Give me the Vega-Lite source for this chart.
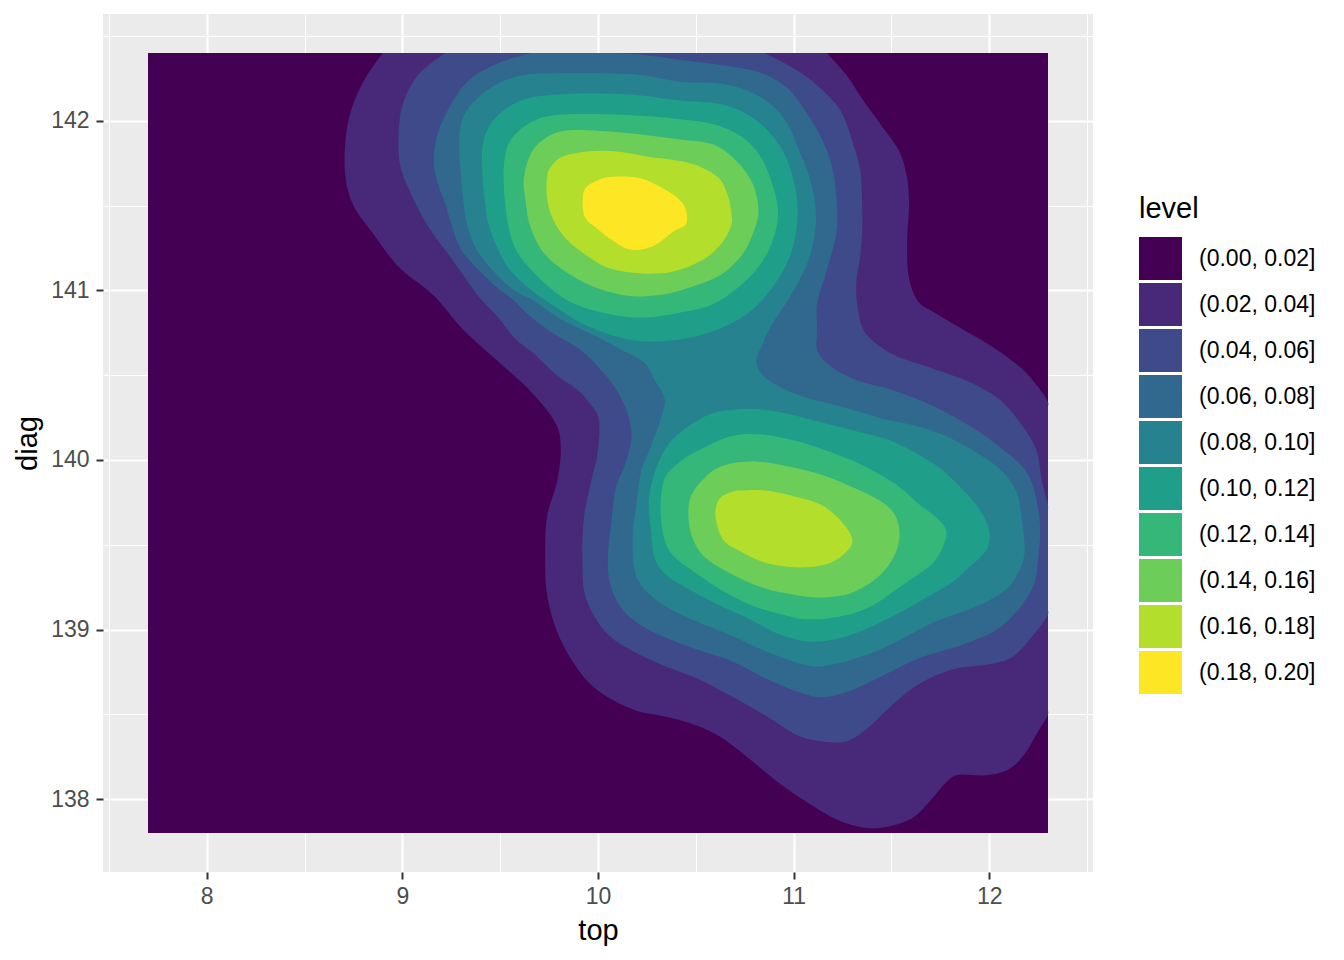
{
"$schema":"https://vega.github.io/schema/vega-lite/v6.json",
"width":990,"height":858,
"autosize":{"type":"none"},
"padding":{"left":103,"top":14,"right":251,"bottom":88},
"background":"white",
"config":{"font":"Liberation Sans","view":{"fill":"#EBEBEB","stroke":null}},
"data":{"values":[
{"id":"bg","level":"(0.00, 0.02]","o":1,"x":7.7,"y":137.8},
{"id":"bg","level":"(0.00, 0.02]","o":2,"x":12.3,"y":137.8},
{"id":"bg","level":"(0.00, 0.02]","o":3,"x":12.3,"y":142.4},
{"id":"bg","level":"(0.00, 0.02]","o":4,"x":7.7,"y":142.4},
{"id":"p2","level":"(0.02, 0.04]","o":2,"x":11.17,"y":142.4},
{"id":"p2","level":"(0.02, 0.04]","o":3,"x":11.27,"y":142.27},
{"id":"p2","level":"(0.02, 0.04]","o":4,"x":11.35,"y":142.13},
{"id":"p2","level":"(0.02, 0.04]","o":5,"x":11.45,"y":141.97},
{"id":"p2","level":"(0.02, 0.04]","o":6,"x":11.54,"y":141.82},
{"id":"p2","level":"(0.02, 0.04]","o":7,"x":11.58,"y":141.66},
{"id":"p2","level":"(0.02, 0.04]","o":8,"x":11.59,"y":141.50},
{"id":"p2","level":"(0.02, 0.04]","o":9,"x":11.58,"y":141.30},
{"id":"p2","level":"(0.02, 0.04]","o":10,"x":11.59,"y":141.07},
{"id":"p2","level":"(0.02, 0.04]","o":11,"x":11.64,"y":140.93},
{"id":"p2","level":"(0.02, 0.04]","o":12,"x":11.72,"y":140.87},
{"id":"p2","level":"(0.02, 0.04]","o":13,"x":11.85,"y":140.78},
{"id":"p2","level":"(0.02, 0.04]","o":14,"x":11.97,"y":140.70},
{"id":"p2","level":"(0.02, 0.04]","o":15,"x":12.10,"y":140.60},
{"id":"p2","level":"(0.02, 0.04]","o":16,"x":12.20,"y":140.50},
{"id":"p2","level":"(0.02, 0.04]","o":17,"x":12.30,"y":140.34},
{"id":"p2","level":"(0.02, 0.04]","o":17.3,"x":12.30,"y":140.31},
{"id":"p2","level":"(0.02, 0.04]","o":17.7,"x":12.30,"y":138.53},
{"id":"p2","level":"(0.02, 0.04]","o":18,"x":12.30,"y":138.50},
{"id":"p2","level":"(0.02, 0.04]","o":19,"x":12.25,"y":138.40},
{"id":"p2","level":"(0.02, 0.04]","o":20,"x":12.17,"y":138.25},
{"id":"p2","level":"(0.02, 0.04]","o":21,"x":12.09,"y":138.17},
{"id":"p2","level":"(0.02, 0.04]","o":22,"x":11.98,"y":138.14},
{"id":"p2","level":"(0.02, 0.04]","o":23,"x":11.83,"y":138.14},
{"id":"p2","level":"(0.02, 0.04]","o":24,"x":11.78,"y":138.10},
{"id":"p2","level":"(0.02, 0.04]","o":25,"x":11.69,"y":137.98},
{"id":"p2","level":"(0.02, 0.04]","o":26,"x":11.61,"y":137.89},
{"id":"p2","level":"(0.02, 0.04]","o":27,"x":11.49,"y":137.84},
{"id":"p2","level":"(0.02, 0.04]","o":28,"x":11.37,"y":137.83},
{"id":"p2","level":"(0.02, 0.04]","o":29,"x":11.22,"y":137.88},
{"id":"p2","level":"(0.02, 0.04]","o":30,"x":11.07,"y":137.98},
{"id":"p2","level":"(0.02, 0.04]","o":31,"x":10.93,"y":138.09},
{"id":"p2","level":"(0.02, 0.04]","o":32,"x":10.76,"y":138.25},
{"id":"p2","level":"(0.02, 0.04]","o":33,"x":10.62,"y":138.37},
{"id":"p2","level":"(0.02, 0.04]","o":34,"x":10.49,"y":138.44},
{"id":"p2","level":"(0.02, 0.04]","o":35,"x":10.33,"y":138.49},
{"id":"p2","level":"(0.02, 0.04]","o":36,"x":10.20,"y":138.52},
{"id":"p2","level":"(0.02, 0.04]","o":37,"x":10.05,"y":138.60},
{"id":"p2","level":"(0.02, 0.04]","o":38,"x":9.95,"y":138.69},
{"id":"p2","level":"(0.02, 0.04]","o":39,"x":9.86,"y":138.83},
{"id":"p2","level":"(0.02, 0.04]","o":40,"x":9.79,"y":138.99},
{"id":"p2","level":"(0.02, 0.04]","o":41,"x":9.74,"y":139.20},
{"id":"p2","level":"(0.02, 0.04]","o":42,"x":9.73,"y":139.42},
{"id":"p2","level":"(0.02, 0.04]","o":43,"x":9.74,"y":139.67},
{"id":"p2","level":"(0.02, 0.04]","o":44,"x":9.79,"y":139.87},
{"id":"p2","level":"(0.02, 0.04]","o":45,"x":9.81,"y":140.06},
{"id":"p2","level":"(0.02, 0.04]","o":46,"x":9.79,"y":140.20},
{"id":"p2","level":"(0.02, 0.04]","o":47,"x":9.66,"y":140.40},
{"id":"p2","level":"(0.02, 0.04]","o":48,"x":9.49,"y":140.58},
{"id":"p2","level":"(0.02, 0.04]","o":49,"x":9.31,"y":140.77},
{"id":"p2","level":"(0.02, 0.04]","o":50,"x":9.16,"y":140.97},
{"id":"p2","level":"(0.02, 0.04]","o":51,"x":8.98,"y":141.14},
{"id":"p2","level":"(0.02, 0.04]","o":52,"x":8.86,"y":141.32},
{"id":"p2","level":"(0.02, 0.04]","o":53,"x":8.75,"y":141.50},
{"id":"p2","level":"(0.02, 0.04]","o":54,"x":8.71,"y":141.66},
{"id":"p2","level":"(0.02, 0.04]","o":55,"x":8.71,"y":141.89},
{"id":"p2","level":"(0.02, 0.04]","o":56,"x":8.74,"y":142.07},
{"id":"p2","level":"(0.02, 0.04]","o":57,"x":8.81,"y":142.25},
{"id":"p2","level":"(0.02, 0.04]","o":58,"x":8.90,"y":142.4},
{"id":"p4","level":"(0.04, 0.06]","o":2,"x":10.85,"y":142.4},
{"id":"p4","level":"(0.04, 0.06]","o":3,"x":11.00,"y":142.31},
{"id":"p4","level":"(0.04, 0.06]","o":4,"x":11.13,"y":142.20},
{"id":"p4","level":"(0.04, 0.06]","o":5,"x":11.24,"y":142.06},
{"id":"p4","level":"(0.04, 0.06]","o":6,"x":11.30,"y":141.88},
{"id":"p4","level":"(0.04, 0.06]","o":7,"x":11.34,"y":141.71},
{"id":"p4","level":"(0.04, 0.06]","o":8,"x":11.35,"y":141.51},
{"id":"p4","level":"(0.04, 0.06]","o":9,"x":11.35,"y":141.35},
{"id":"p4","level":"(0.04, 0.06]","o":10,"x":11.34,"y":141.20},
{"id":"p4","level":"(0.04, 0.06]","o":11,"x":11.32,"y":141.04},
{"id":"p4","level":"(0.04, 0.06]","o":12,"x":11.33,"y":140.88},
{"id":"p4","level":"(0.04, 0.06]","o":13,"x":11.36,"y":140.76},
{"id":"p4","level":"(0.04, 0.06]","o":14,"x":11.44,"y":140.67},
{"id":"p4","level":"(0.04, 0.06]","o":15,"x":11.53,"y":140.61},
{"id":"p4","level":"(0.04, 0.06]","o":16,"x":11.71,"y":140.54},
{"id":"p4","level":"(0.04, 0.06]","o":17,"x":11.90,"y":140.46},
{"id":"p4","level":"(0.04, 0.06]","o":18,"x":12.05,"y":140.36},
{"id":"p4","level":"(0.04, 0.06]","o":19,"x":12.17,"y":140.20},
{"id":"p4","level":"(0.04, 0.06]","o":20,"x":12.24,"y":140.06},
{"id":"p4","level":"(0.04, 0.06]","o":21,"x":12.27,"y":139.87},
{"id":"p4","level":"(0.04, 0.06]","o":22,"x":12.30,"y":139.73},
{"id":"p4","level":"(0.04, 0.06]","o":22.3,"x":12.30,"y":139.70},
{"id":"p4","level":"(0.04, 0.06]","o":22.7,"x":12.30,"y":139.12},
{"id":"p4","level":"(0.04, 0.06]","o":23,"x":12.30,"y":139.09},
{"id":"p4","level":"(0.04, 0.06]","o":24,"x":12.22,"y":138.96},
{"id":"p4","level":"(0.04, 0.06]","o":25,"x":12.12,"y":138.84},
{"id":"p4","level":"(0.04, 0.06]","o":26,"x":12.02,"y":138.80},
{"id":"p4","level":"(0.04, 0.06]","o":27,"x":11.83,"y":138.77},
{"id":"p4","level":"(0.04, 0.06]","o":28,"x":11.69,"y":138.71},
{"id":"p4","level":"(0.04, 0.06]","o":29,"x":11.58,"y":138.63},
{"id":"p4","level":"(0.04, 0.06]","o":30,"x":11.48,"y":138.53},
{"id":"p4","level":"(0.04, 0.06]","o":31,"x":11.37,"y":138.41},
{"id":"p4","level":"(0.04, 0.06]","o":32,"x":11.27,"y":138.34},
{"id":"p4","level":"(0.04, 0.06]","o":33,"x":11.15,"y":138.34},
{"id":"p4","level":"(0.04, 0.06]","o":34,"x":11.03,"y":138.37},
{"id":"p4","level":"(0.04, 0.06]","o":35,"x":10.86,"y":138.49},
{"id":"p4","level":"(0.04, 0.06]","o":36,"x":10.69,"y":138.60},
{"id":"p4","level":"(0.04, 0.06]","o":37,"x":10.51,"y":138.71},
{"id":"p4","level":"(0.04, 0.06]","o":38,"x":10.33,"y":138.79},
{"id":"p4","level":"(0.04, 0.06]","o":39,"x":10.18,"y":138.87},
{"id":"p4","level":"(0.04, 0.06]","o":40,"x":10.06,"y":138.96},
{"id":"p4","level":"(0.04, 0.06]","o":41,"x":9.98,"y":139.08},
{"id":"p4","level":"(0.04, 0.06]","o":42,"x":9.93,"y":139.22},
{"id":"p4","level":"(0.04, 0.06]","o":43,"x":9.92,"y":139.42},
{"id":"p4","level":"(0.04, 0.06]","o":44,"x":9.92,"y":139.53},
{"id":"p4","level":"(0.04, 0.06]","o":45,"x":9.93,"y":139.68},
{"id":"p4","level":"(0.04, 0.06]","o":46,"x":9.96,"y":139.85},
{"id":"p4","level":"(0.04, 0.06]","o":47,"x":10.00,"y":140.06},
{"id":"p4","level":"(0.04, 0.06]","o":48,"x":10.00,"y":140.26},
{"id":"p4","level":"(0.04, 0.06]","o":49,"x":9.96,"y":140.33},
{"id":"p4","level":"(0.04, 0.06]","o":50,"x":9.91,"y":140.40},
{"id":"p4","level":"(0.04, 0.06]","o":51,"x":9.79,"y":140.50},
{"id":"p4","level":"(0.04, 0.06]","o":52,"x":9.66,"y":140.64},
{"id":"p4","level":"(0.04, 0.06]","o":53,"x":9.58,"y":140.71},
{"id":"p4","level":"(0.04, 0.06]","o":54,"x":9.49,"y":140.84},
{"id":"p4","level":"(0.04, 0.06]","o":55,"x":9.40,"y":140.95},
{"id":"p4","level":"(0.04, 0.06]","o":56,"x":9.25,"y":141.19},
{"id":"p4","level":"(0.04, 0.06]","o":57,"x":9.13,"y":141.38},
{"id":"p4","level":"(0.04, 0.06]","o":58,"x":9.04,"y":141.58},
{"id":"p4","level":"(0.04, 0.06]","o":59,"x":8.99,"y":141.73},
{"id":"p4","level":"(0.04, 0.06]","o":60,"x":8.98,"y":141.89},
{"id":"p4","level":"(0.04, 0.06]","o":61,"x":9.00,"y":142.09},
{"id":"p4","level":"(0.04, 0.06]","o":62,"x":9.08,"y":142.27},
{"id":"p4","level":"(0.04, 0.06]","o":63,"x":9.22,"y":142.4},
{"id":"p6","level":"(0.06, 0.08]","o":2,"x":10.06,"y":142.4},
{"id":"p6","level":"(0.06, 0.08]","o":3,"x":10.22,"y":142.39},
{"id":"p6","level":"(0.06, 0.08]","o":4,"x":10.42,"y":142.36},
{"id":"p6","level":"(0.06, 0.08]","o":5,"x":10.68,"y":142.32},
{"id":"p6","level":"(0.06, 0.08]","o":6,"x":10.84,"y":142.28},
{"id":"p6","level":"(0.06, 0.08]","o":7,"x":10.97,"y":142.19},
{"id":"p6","level":"(0.06, 0.08]","o":8,"x":11.07,"y":142.04},
{"id":"p6","level":"(0.06, 0.08]","o":9,"x":11.15,"y":141.88},
{"id":"p6","level":"(0.06, 0.08]","o":10,"x":11.20,"y":141.71},
{"id":"p6","level":"(0.06, 0.08]","o":11,"x":11.22,"y":141.53},
{"id":"p6","level":"(0.06, 0.08]","o":12,"x":11.22,"y":141.35},
{"id":"p6","level":"(0.06, 0.08]","o":13,"x":11.17,"y":141.12},
{"id":"p6","level":"(0.06, 0.08]","o":14,"x":11.12,"y":140.92},
{"id":"p6","level":"(0.06, 0.08]","o":15,"x":11.12,"y":140.76},
{"id":"p6","level":"(0.06, 0.08]","o":16,"x":11.12,"y":140.65},
{"id":"p6","level":"(0.06, 0.08]","o":17,"x":11.17,"y":140.57},
{"id":"p6","level":"(0.06, 0.08]","o":18,"x":11.30,"y":140.48},
{"id":"p6","level":"(0.06, 0.08]","o":19,"x":11.51,"y":140.41},
{"id":"p6","level":"(0.06, 0.08]","o":20,"x":11.71,"y":140.32},
{"id":"p6","level":"(0.06, 0.08]","o":21,"x":11.90,"y":140.20},
{"id":"p6","level":"(0.06, 0.08]","o":22,"x":12.05,"y":140.08},
{"id":"p6","level":"(0.06, 0.08]","o":23,"x":12.19,"y":139.93},
{"id":"p6","level":"(0.06, 0.08]","o":24,"x":12.24,"y":139.77},
{"id":"p6","level":"(0.06, 0.08]","o":25,"x":12.26,"y":139.59},
{"id":"p6","level":"(0.06, 0.08]","o":26,"x":12.25,"y":139.42},
{"id":"p6","level":"(0.06, 0.08]","o":27,"x":12.23,"y":139.27},
{"id":"p6","level":"(0.06, 0.08]","o":28,"x":12.15,"y":139.12},
{"id":"p6","level":"(0.06, 0.08]","o":29,"x":12.04,"y":139.00},
{"id":"p6","level":"(0.06, 0.08]","o":30,"x":11.91,"y":138.93},
{"id":"p6","level":"(0.06, 0.08]","o":31,"x":11.78,"y":138.88},
{"id":"p6","level":"(0.06, 0.08]","o":32,"x":11.64,"y":138.83},
{"id":"p6","level":"(0.06, 0.08]","o":33,"x":11.53,"y":138.77},
{"id":"p6","level":"(0.06, 0.08]","o":34,"x":11.39,"y":138.69},
{"id":"p6","level":"(0.06, 0.08]","o":35,"x":11.27,"y":138.63},
{"id":"p6","level":"(0.06, 0.08]","o":36,"x":11.13,"y":138.60},
{"id":"p6","level":"(0.06, 0.08]","o":37,"x":11.03,"y":138.63},
{"id":"p6","level":"(0.06, 0.08]","o":38,"x":10.86,"y":138.71},
{"id":"p6","level":"(0.06, 0.08]","o":39,"x":10.69,"y":138.81},
{"id":"p6","level":"(0.06, 0.08]","o":40,"x":10.51,"y":138.88},
{"id":"p6","level":"(0.06, 0.08]","o":41,"x":10.33,"y":138.96},
{"id":"p6","level":"(0.06, 0.08]","o":42,"x":10.20,"y":139.04},
{"id":"p6","level":"(0.06, 0.08]","o":43,"x":10.11,"y":139.14},
{"id":"p6","level":"(0.06, 0.08]","o":44,"x":10.06,"y":139.28},
{"id":"p6","level":"(0.06, 0.08]","o":45,"x":10.05,"y":139.42},
{"id":"p6","level":"(0.06, 0.08]","o":46,"x":10.07,"y":139.65},
{"id":"p6","level":"(0.06, 0.08]","o":47,"x":10.09,"y":139.83},
{"id":"p6","level":"(0.06, 0.08]","o":48,"x":10.14,"y":139.98},
{"id":"p6","level":"(0.06, 0.08]","o":49,"x":10.17,"y":140.12},
{"id":"p6","level":"(0.06, 0.08]","o":50,"x":10.16,"y":140.24},
{"id":"p6","level":"(0.06, 0.08]","o":51,"x":10.12,"y":140.36},
{"id":"p6","level":"(0.06, 0.08]","o":52,"x":10.06,"y":140.47},
{"id":"p6","level":"(0.06, 0.08]","o":53,"x":10.00,"y":140.55},
{"id":"p6","level":"(0.06, 0.08]","o":54,"x":9.91,"y":140.65},
{"id":"p6","level":"(0.06, 0.08]","o":55,"x":9.78,"y":140.74},
{"id":"p6","level":"(0.06, 0.08]","o":56,"x":9.66,"y":140.84},
{"id":"p6","level":"(0.06, 0.08]","o":57,"x":9.56,"y":140.95},
{"id":"p6","level":"(0.06, 0.08]","o":58,"x":9.48,"y":141.02},
{"id":"p6","level":"(0.06, 0.08]","o":59,"x":9.39,"y":141.12},
{"id":"p6","level":"(0.06, 0.08]","o":60,"x":9.30,"y":141.24},
{"id":"p6","level":"(0.06, 0.08]","o":61,"x":9.25,"y":141.39},
{"id":"p6","level":"(0.06, 0.08]","o":62,"x":9.22,"y":141.51},
{"id":"p6","level":"(0.06, 0.08]","o":63,"x":9.19,"y":141.60},
{"id":"p6","level":"(0.06, 0.08]","o":64,"x":9.16,"y":141.75},
{"id":"p6","level":"(0.06, 0.08]","o":65,"x":9.18,"y":141.92},
{"id":"p6","level":"(0.06, 0.08]","o":66,"x":9.25,"y":142.10},
{"id":"p6","level":"(0.06, 0.08]","o":67,"x":9.35,"y":142.25},
{"id":"p6","level":"(0.06, 0.08]","o":68,"x":9.49,"y":142.34},
{"id":"p6","level":"(0.06, 0.08]","o":69,"x":9.66,"y":142.4},
{"id":"p8","level":"(0.08, 0.10]","o":1,"x":9.29,"y":141.86},
{"id":"p8","level":"(0.08, 0.10]","o":2,"x":9.31,"y":142.02},
{"id":"p8","level":"(0.08, 0.10]","o":3,"x":9.39,"y":142.14},
{"id":"p8","level":"(0.08, 0.10]","o":4,"x":9.49,"y":142.22},
{"id":"p8","level":"(0.08, 0.10]","o":5,"x":9.62,"y":142.27},
{"id":"p8","level":"(0.08, 0.10]","o":6,"x":9.79,"y":142.28},
{"id":"p8","level":"(0.08, 0.10]","o":7,"x":10.01,"y":142.28},
{"id":"p8","level":"(0.08, 0.10]","o":8,"x":10.22,"y":142.27},
{"id":"p8","level":"(0.08, 0.10]","o":9,"x":10.42,"y":142.23},
{"id":"p8","level":"(0.08, 0.10]","o":10,"x":10.62,"y":142.22},
{"id":"p8","level":"(0.08, 0.10]","o":11,"x":10.76,"y":142.18},
{"id":"p8","level":"(0.08, 0.10]","o":12,"x":10.88,"y":142.10},
{"id":"p8","level":"(0.08, 0.10]","o":13,"x":10.97,"y":141.98},
{"id":"p8","level":"(0.08, 0.10]","o":14,"x":11.03,"y":141.82},
{"id":"p8","level":"(0.08, 0.10]","o":15,"x":11.08,"y":141.67},
{"id":"p8","level":"(0.08, 0.10]","o":16,"x":11.11,"y":141.51},
{"id":"p8","level":"(0.08, 0.10]","o":17,"x":11.11,"y":141.35},
{"id":"p8","level":"(0.08, 0.10]","o":18,"x":11.07,"y":141.16},
{"id":"p8","level":"(0.08, 0.10]","o":19,"x":10.98,"y":140.96},
{"id":"p8","level":"(0.08, 0.10]","o":20,"x":10.89,"y":140.80},
{"id":"p8","level":"(0.08, 0.10]","o":21,"x":10.84,"y":140.68},
{"id":"p8","level":"(0.08, 0.10]","o":22,"x":10.81,"y":140.58},
{"id":"p8","level":"(0.08, 0.10]","o":23,"x":10.86,"y":140.48},
{"id":"p8","level":"(0.08, 0.10]","o":24,"x":11.03,"y":140.38},
{"id":"p8","level":"(0.08, 0.10]","o":25,"x":11.26,"y":140.31},
{"id":"p8","level":"(0.08, 0.10]","o":26,"x":11.47,"y":140.24},
{"id":"p8","level":"(0.08, 0.10]","o":27,"x":11.63,"y":140.20},
{"id":"p8","level":"(0.08, 0.10]","o":28,"x":11.78,"y":140.14},
{"id":"p8","level":"(0.08, 0.10]","o":29,"x":11.91,"y":140.06},
{"id":"p8","level":"(0.08, 0.10]","o":30,"x":12.05,"y":139.95},
{"id":"p8","level":"(0.08, 0.10]","o":31,"x":12.14,"y":139.81},
{"id":"p8","level":"(0.08, 0.10]","o":32,"x":12.17,"y":139.61},
{"id":"p8","level":"(0.08, 0.10]","o":33,"x":12.18,"y":139.45},
{"id":"p8","level":"(0.08, 0.10]","o":34,"x":12.15,"y":139.34},
{"id":"p8","level":"(0.08, 0.10]","o":35,"x":12.09,"y":139.24},
{"id":"p8","level":"(0.08, 0.10]","o":36,"x":11.98,"y":139.16},
{"id":"p8","level":"(0.08, 0.10]","o":37,"x":11.85,"y":139.10},
{"id":"p8","level":"(0.08, 0.10]","o":38,"x":11.71,"y":139.04},
{"id":"p8","level":"(0.08, 0.10]","o":39,"x":11.58,"y":138.96},
{"id":"p8","level":"(0.08, 0.10]","o":40,"x":11.44,"y":138.88},
{"id":"p8","level":"(0.08, 0.10]","o":41,"x":11.32,"y":138.83},
{"id":"p8","level":"(0.08, 0.10]","o":42,"x":11.18,"y":138.79},
{"id":"p8","level":"(0.08, 0.10]","o":43,"x":11.06,"y":138.79},
{"id":"p8","level":"(0.08, 0.10]","o":44,"x":10.86,"y":138.87},
{"id":"p8","level":"(0.08, 0.10]","o":45,"x":10.69,"y":138.96},
{"id":"p8","level":"(0.08, 0.10]","o":46,"x":10.52,"y":139.04},
{"id":"p8","level":"(0.08, 0.10]","o":47,"x":10.37,"y":139.12},
{"id":"p8","level":"(0.08, 0.10]","o":48,"x":10.27,"y":139.20},
{"id":"p8","level":"(0.08, 0.10]","o":49,"x":10.20,"y":139.30},
{"id":"p8","level":"(0.08, 0.10]","o":50,"x":10.18,"y":139.42},
{"id":"p8","level":"(0.08, 0.10]","o":51,"x":10.18,"y":139.59},
{"id":"p8","level":"(0.08, 0.10]","o":52,"x":10.20,"y":139.77},
{"id":"p8","level":"(0.08, 0.10]","o":53,"x":10.22,"y":139.93},
{"id":"p8","level":"(0.08, 0.10]","o":54,"x":10.27,"y":140.08},
{"id":"p8","level":"(0.08, 0.10]","o":55,"x":10.32,"y":140.24},
{"id":"p8","level":"(0.08, 0.10]","o":56,"x":10.34,"y":140.36},
{"id":"p8","level":"(0.08, 0.10]","o":57,"x":10.29,"y":140.47},
{"id":"p8","level":"(0.08, 0.10]","o":58,"x":10.24,"y":140.57},
{"id":"p8","level":"(0.08, 0.10]","o":59,"x":10.12,"y":140.65},
{"id":"p8","level":"(0.08, 0.10]","o":60,"x":9.97,"y":140.74},
{"id":"p8","level":"(0.08, 0.10]","o":61,"x":9.81,"y":140.83},
{"id":"p8","level":"(0.08, 0.10]","o":62,"x":9.67,"y":140.94},
{"id":"p8","level":"(0.08, 0.10]","o":63,"x":9.56,"y":141.01},
{"id":"p8","level":"(0.08, 0.10]","o":64,"x":9.46,"y":141.12},
{"id":"p8","level":"(0.08, 0.10]","o":65,"x":9.38,"y":141.24},
{"id":"p8","level":"(0.08, 0.10]","o":66,"x":9.33,"y":141.39},
{"id":"p8","level":"(0.08, 0.10]","o":67,"x":9.31,"y":141.54},
{"id":"p8","level":"(0.08, 0.10]","o":68,"x":9.30,"y":141.67},
{"id":"u10","level":"(0.10, 0.12]","o":1,"x":9.41,"y":141.85},
{"id":"u10","level":"(0.10, 0.12]","o":2,"x":9.45,"y":141.98},
{"id":"u10","level":"(0.10, 0.12]","o":3,"x":9.54,"y":142.08},
{"id":"u10","level":"(0.10, 0.12]","o":4,"x":9.67,"y":142.14},
{"id":"u10","level":"(0.10, 0.12]","o":5,"x":9.87,"y":142.16},
{"id":"u10","level":"(0.10, 0.12]","o":6,"x":10.05,"y":142.16},
{"id":"u10","level":"(0.10, 0.12]","o":7,"x":10.22,"y":142.15},
{"id":"u10","level":"(0.10, 0.12]","o":8,"x":10.42,"y":142.12},
{"id":"u10","level":"(0.10, 0.12]","o":9,"x":10.62,"y":142.10},
{"id":"u10","level":"(0.10, 0.12]","o":10,"x":10.76,"y":142.04},
{"id":"u10","level":"(0.10, 0.12]","o":11,"x":10.87,"y":141.94},
{"id":"u10","level":"(0.10, 0.12]","o":12,"x":10.95,"y":141.81},
{"id":"u10","level":"(0.10, 0.12]","o":13,"x":11.00,"y":141.65},
{"id":"u10","level":"(0.10, 0.12]","o":14,"x":11.02,"y":141.49},
{"id":"u10","level":"(0.10, 0.12]","o":15,"x":11.01,"y":141.33},
{"id":"u10","level":"(0.10, 0.12]","o":16,"x":10.97,"y":141.17},
{"id":"u10","level":"(0.10, 0.12]","o":17,"x":10.88,"y":141.00},
{"id":"u10","level":"(0.10, 0.12]","o":18,"x":10.76,"y":140.86},
{"id":"u10","level":"(0.10, 0.12]","o":19,"x":10.59,"y":140.76},
{"id":"u10","level":"(0.10, 0.12]","o":20,"x":10.42,"y":140.71},
{"id":"u10","level":"(0.10, 0.12]","o":21,"x":10.22,"y":140.70},
{"id":"u10","level":"(0.10, 0.12]","o":22,"x":10.06,"y":140.74},
{"id":"u10","level":"(0.10, 0.12]","o":23,"x":9.91,"y":140.81},
{"id":"u10","level":"(0.10, 0.12]","o":24,"x":9.76,"y":140.92},
{"id":"u10","level":"(0.10, 0.12]","o":25,"x":9.65,"y":141.01},
{"id":"u10","level":"(0.10, 0.12]","o":26,"x":9.55,"y":141.12},
{"id":"u10","level":"(0.10, 0.12]","o":27,"x":9.49,"y":141.24},
{"id":"u10","level":"(0.10, 0.12]","o":28,"x":9.44,"y":141.39},
{"id":"u10","level":"(0.10, 0.12]","o":29,"x":9.42,"y":141.54},
{"id":"u10","level":"(0.10, 0.12]","o":30,"x":9.41,"y":141.67},
{"id":"l10","level":"(0.10, 0.12]","o":1,"x":10.26,"y":139.77},
{"id":"l10","level":"(0.10, 0.12]","o":2,"x":10.30,"y":139.96},
{"id":"l10","level":"(0.10, 0.12]","o":3,"x":10.38,"y":140.12},
{"id":"l10","level":"(0.10, 0.12]","o":4,"x":10.52,"y":140.24},
{"id":"l10","level":"(0.10, 0.12]","o":5,"x":10.64,"y":140.29},
{"id":"l10","level":"(0.10, 0.12]","o":6,"x":10.81,"y":140.30},
{"id":"l10","level":"(0.10, 0.12]","o":7,"x":10.98,"y":140.27},
{"id":"l10","level":"(0.10, 0.12]","o":8,"x":11.15,"y":140.22},
{"id":"l10","level":"(0.10, 0.12]","o":9,"x":11.32,"y":140.17},
{"id":"l10","level":"(0.10, 0.12]","o":10,"x":11.48,"y":140.12},
{"id":"l10","level":"(0.10, 0.12]","o":11,"x":11.61,"y":140.05},
{"id":"l10","level":"(0.10, 0.12]","o":12,"x":11.75,"y":139.95},
{"id":"l10","level":"(0.10, 0.12]","o":13,"x":11.86,"y":139.83},
{"id":"l10","level":"(0.10, 0.12]","o":14,"x":11.95,"y":139.71},
{"id":"l10","level":"(0.10, 0.12]","o":15,"x":12.00,"y":139.58},
{"id":"l10","level":"(0.10, 0.12]","o":16,"x":11.99,"y":139.48},
{"id":"l10","level":"(0.10, 0.12]","o":17,"x":11.93,"y":139.40},
{"id":"l10","level":"(0.10, 0.12]","o":18,"x":11.88,"y":139.35},
{"id":"l10","level":"(0.10, 0.12]","o":19,"x":11.80,"y":139.27},
{"id":"l10","level":"(0.10, 0.12]","o":20,"x":11.68,"y":139.19},
{"id":"l10","level":"(0.10, 0.12]","o":21,"x":11.56,"y":139.11},
{"id":"l10","level":"(0.10, 0.12]","o":22,"x":11.44,"y":139.04},
{"id":"l10","level":"(0.10, 0.12]","o":23,"x":11.32,"y":138.98},
{"id":"l10","level":"(0.10, 0.12]","o":24,"x":11.20,"y":138.94},
{"id":"l10","level":"(0.10, 0.12]","o":25,"x":11.07,"y":138.93},
{"id":"l10","level":"(0.10, 0.12]","o":26,"x":10.93,"y":138.97},
{"id":"l10","level":"(0.10, 0.12]","o":27,"x":10.76,"y":139.07},
{"id":"l10","level":"(0.10, 0.12]","o":28,"x":10.59,"y":139.16},
{"id":"l10","level":"(0.10, 0.12]","o":29,"x":10.46,"y":139.24},
{"id":"l10","level":"(0.10, 0.12]","o":30,"x":10.35,"y":139.32},
{"id":"l10","level":"(0.10, 0.12]","o":31,"x":10.29,"y":139.42},
{"id":"l10","level":"(0.10, 0.12]","o":32,"x":10.27,"y":139.59},
{"id":"u12","level":"(0.12, 0.14]","o":1,"x":9.52,"y":141.75},
{"id":"u12","level":"(0.12, 0.14]","o":2,"x":9.55,"y":141.88},
{"id":"u12","level":"(0.12, 0.14]","o":3,"x":9.64,"y":141.98},
{"id":"u12","level":"(0.12, 0.14]","o":4,"x":9.76,"y":142.03},
{"id":"u12","level":"(0.12, 0.14]","o":5,"x":9.96,"y":142.04},
{"id":"u12","level":"(0.12, 0.14]","o":6,"x":10.22,"y":142.03},
{"id":"u12","level":"(0.12, 0.14]","o":7,"x":10.42,"y":142.01},
{"id":"u12","level":"(0.12, 0.14]","o":8,"x":10.59,"y":141.98},
{"id":"u12","level":"(0.12, 0.14]","o":9,"x":10.73,"y":141.91},
{"id":"u12","level":"(0.12, 0.14]","o":10,"x":10.83,"y":141.79},
{"id":"u12","level":"(0.12, 0.14]","o":11,"x":10.89,"y":141.63},
{"id":"u12","level":"(0.12, 0.14]","o":12,"x":10.92,"y":141.47},
{"id":"u12","level":"(0.12, 0.14]","o":13,"x":10.90,"y":141.32},
{"id":"u12","level":"(0.12, 0.14]","o":14,"x":10.84,"y":141.17},
{"id":"u12","level":"(0.12, 0.14]","o":15,"x":10.74,"y":141.04},
{"id":"u12","level":"(0.12, 0.14]","o":16,"x":10.59,"y":140.92},
{"id":"u12","level":"(0.12, 0.14]","o":17,"x":10.42,"y":140.87},
{"id":"u12","level":"(0.12, 0.14]","o":18,"x":10.24,"y":140.84},
{"id":"u12","level":"(0.12, 0.14]","o":19,"x":10.06,"y":140.86},
{"id":"u12","level":"(0.12, 0.14]","o":20,"x":9.88,"y":140.92},
{"id":"u12","level":"(0.12, 0.14]","o":21,"x":9.76,"y":141.01},
{"id":"u12","level":"(0.12, 0.14]","o":22,"x":9.66,"y":141.12},
{"id":"u12","level":"(0.12, 0.14]","o":23,"x":9.58,"y":141.24},
{"id":"u12","level":"(0.12, 0.14]","o":24,"x":9.54,"y":141.39},
{"id":"u12","level":"(0.12, 0.14]","o":25,"x":9.52,"y":141.59},
{"id":"l12","level":"(0.12, 0.14]","o":1,"x":10.32,"y":139.71},
{"id":"l12","level":"(0.12, 0.14]","o":2,"x":10.34,"y":139.89},
{"id":"l12","level":"(0.12, 0.14]","o":3,"x":10.42,"y":139.99},
{"id":"l12","level":"(0.12, 0.14]","o":4,"x":10.52,"y":140.06},
{"id":"l12","level":"(0.12, 0.14]","o":5,"x":10.68,"y":140.14},
{"id":"l12","level":"(0.12, 0.14]","o":6,"x":10.84,"y":140.15},
{"id":"l12","level":"(0.12, 0.14]","o":7,"x":11.02,"y":140.11},
{"id":"l12","level":"(0.12, 0.14]","o":8,"x":11.18,"y":140.05},
{"id":"l12","level":"(0.12, 0.14]","o":9,"x":11.35,"y":139.97},
{"id":"l12","level":"(0.12, 0.14]","o":10,"x":11.53,"y":139.85},
{"id":"l12","level":"(0.12, 0.14]","o":11,"x":11.64,"y":139.74},
{"id":"l12","level":"(0.12, 0.14]","o":12,"x":11.73,"y":139.66},
{"id":"l12","level":"(0.12, 0.14]","o":13,"x":11.78,"y":139.58},
{"id":"l12","level":"(0.12, 0.14]","o":14,"x":11.76,"y":139.48},
{"id":"l12","level":"(0.12, 0.14]","o":15,"x":11.71,"y":139.39},
{"id":"l12","level":"(0.12, 0.14]","o":16,"x":11.63,"y":139.32},
{"id":"l12","level":"(0.12, 0.14]","o":17,"x":11.53,"y":139.24},
{"id":"l12","level":"(0.12, 0.14]","o":18,"x":11.43,"y":139.16},
{"id":"l12","level":"(0.12, 0.14]","o":19,"x":11.32,"y":139.10},
{"id":"l12","level":"(0.12, 0.14]","o":20,"x":11.20,"y":139.07},
{"id":"l12","level":"(0.12, 0.14]","o":21,"x":11.07,"y":139.06},
{"id":"l12","level":"(0.12, 0.14]","o":22,"x":10.97,"y":139.08},
{"id":"l12","level":"(0.12, 0.14]","o":23,"x":10.79,"y":139.14},
{"id":"l12","level":"(0.12, 0.14]","o":24,"x":10.62,"y":139.24},
{"id":"l12","level":"(0.12, 0.14]","o":25,"x":10.49,"y":139.34},
{"id":"l12","level":"(0.12, 0.14]","o":26,"x":10.39,"y":139.43},
{"id":"l12","level":"(0.12, 0.14]","o":27,"x":10.34,"y":139.53},
{"id":"u14","level":"(0.14, 0.16]","o":1,"x":9.62,"y":141.65},
{"id":"u14","level":"(0.14, 0.16]","o":2,"x":9.65,"y":141.79},
{"id":"u14","level":"(0.14, 0.16]","o":3,"x":9.71,"y":141.88},
{"id":"u14","level":"(0.14, 0.16]","o":4,"x":9.82,"y":141.94},
{"id":"u14","level":"(0.14, 0.16]","o":5,"x":10.01,"y":141.94},
{"id":"u14","level":"(0.14, 0.16]","o":6,"x":10.22,"y":141.92},
{"id":"u14","level":"(0.14, 0.16]","o":7,"x":10.42,"y":141.89},
{"id":"u14","level":"(0.14, 0.16]","o":8,"x":10.59,"y":141.86},
{"id":"u14","level":"(0.14, 0.16]","o":9,"x":10.71,"y":141.76},
{"id":"u14","level":"(0.14, 0.16]","o":10,"x":10.79,"y":141.63},
{"id":"u14","level":"(0.14, 0.16]","o":11,"x":10.82,"y":141.47},
{"id":"u14","level":"(0.14, 0.16]","o":12,"x":10.79,"y":141.33},
{"id":"u14","level":"(0.14, 0.16]","o":13,"x":10.73,"y":141.20},
{"id":"u14","level":"(0.14, 0.16]","o":14,"x":10.61,"y":141.08},
{"id":"u14","level":"(0.14, 0.16]","o":15,"x":10.42,"y":141.00},
{"id":"u14","level":"(0.14, 0.16]","o":16,"x":10.29,"y":140.97},
{"id":"u14","level":"(0.14, 0.16]","o":17,"x":10.14,"y":140.97},
{"id":"u14","level":"(0.14, 0.16]","o":18,"x":9.96,"y":141.03},
{"id":"u14","level":"(0.14, 0.16]","o":19,"x":9.81,"y":141.13},
{"id":"u14","level":"(0.14, 0.16]","o":20,"x":9.71,"y":141.24},
{"id":"u14","level":"(0.14, 0.16]","o":21,"x":9.65,"y":141.39},
{"id":"u14","level":"(0.14, 0.16]","o":22,"x":9.63,"y":141.53},
{"id":"l14","level":"(0.14, 0.16]","o":1,"x":10.47,"y":139.59},
{"id":"l14","level":"(0.14, 0.16]","o":2,"x":10.47,"y":139.77},
{"id":"l14","level":"(0.14, 0.16]","o":3,"x":10.55,"y":139.90},
{"id":"l14","level":"(0.14, 0.16]","o":4,"x":10.65,"y":139.97},
{"id":"l14","level":"(0.14, 0.16]","o":5,"x":10.81,"y":139.99},
{"id":"l14","level":"(0.14, 0.16]","o":6,"x":10.98,"y":139.96},
{"id":"l14","level":"(0.14, 0.16]","o":7,"x":11.15,"y":139.91},
{"id":"l14","level":"(0.14, 0.16]","o":8,"x":11.32,"y":139.83},
{"id":"l14","level":"(0.14, 0.16]","o":9,"x":11.44,"y":139.76},
{"id":"l14","level":"(0.14, 0.16]","o":10,"x":11.51,"y":139.69},
{"id":"l14","level":"(0.14, 0.16]","o":11,"x":11.54,"y":139.59},
{"id":"l14","level":"(0.14, 0.16]","o":12,"x":11.53,"y":139.48},
{"id":"l14","level":"(0.14, 0.16]","o":13,"x":11.48,"y":139.37},
{"id":"l14","level":"(0.14, 0.16]","o":14,"x":11.41,"y":139.29},
{"id":"l14","level":"(0.14, 0.16]","o":15,"x":11.34,"y":139.24},
{"id":"l14","level":"(0.14, 0.16]","o":16,"x":11.25,"y":139.20},
{"id":"l14","level":"(0.14, 0.16]","o":17,"x":11.10,"y":139.19},
{"id":"l14","level":"(0.14, 0.16]","o":18,"x":10.93,"y":139.22},
{"id":"l14","level":"(0.14, 0.16]","o":19,"x":10.86,"y":139.24},
{"id":"l14","level":"(0.14, 0.16]","o":20,"x":10.73,"y":139.30},
{"id":"l14","level":"(0.14, 0.16]","o":21,"x":10.60,"y":139.38},
{"id":"l14","level":"(0.14, 0.16]","o":22,"x":10.52,"y":139.46},
{"id":"u16","level":"(0.16, 0.18]","o":1,"x":9.74,"y":141.67},
{"id":"u16","level":"(0.16, 0.18]","o":2,"x":9.76,"y":141.73},
{"id":"u16","level":"(0.16, 0.18]","o":3,"x":9.82,"y":141.79},
{"id":"u16","level":"(0.16, 0.18]","o":4,"x":9.96,"y":141.82},
{"id":"u16","level":"(0.16, 0.18]","o":5,"x":10.08,"y":141.82},
{"id":"u16","level":"(0.16, 0.18]","o":6,"x":10.25,"y":141.79},
{"id":"u16","level":"(0.16, 0.18]","o":7,"x":10.47,"y":141.75},
{"id":"u16","level":"(0.16, 0.18]","o":8,"x":10.61,"y":141.67},
{"id":"u16","level":"(0.16, 0.18]","o":9,"x":10.66,"y":141.57},
{"id":"u16","level":"(0.16, 0.18]","o":10,"x":10.68,"y":141.47},
{"id":"u16","level":"(0.16, 0.18]","o":11,"x":10.68,"y":141.38},
{"id":"u16","level":"(0.16, 0.18]","o":12,"x":10.62,"y":141.26},
{"id":"u16","level":"(0.16, 0.18]","o":13,"x":10.52,"y":141.17},
{"id":"u16","level":"(0.16, 0.18]","o":14,"x":10.38,"y":141.11},
{"id":"u16","level":"(0.16, 0.18]","o":15,"x":10.22,"y":141.10},
{"id":"u16","level":"(0.16, 0.18]","o":16,"x":10.06,"y":141.13},
{"id":"u16","level":"(0.16, 0.18]","o":17,"x":9.95,"y":141.20},
{"id":"u16","level":"(0.16, 0.18]","o":18,"x":9.84,"y":141.30},
{"id":"u16","level":"(0.16, 0.18]","o":19,"x":9.77,"y":141.42},
{"id":"u16","level":"(0.16, 0.18]","o":20,"x":9.74,"y":141.54},
{"id":"l16","level":"(0.16, 0.18]","o":1,"x":10.62,"y":139.77},
{"id":"l16","level":"(0.16, 0.18]","o":2,"x":10.68,"y":139.81},
{"id":"l16","level":"(0.16, 0.18]","o":3,"x":10.73,"y":139.82},
{"id":"l16","level":"(0.16, 0.18]","o":4,"x":10.86,"y":139.82},
{"id":"l16","level":"(0.16, 0.18]","o":5,"x":11.02,"y":139.78},
{"id":"l16","level":"(0.16, 0.18]","o":6,"x":11.15,"y":139.73},
{"id":"l16","level":"(0.16, 0.18]","o":7,"x":11.25,"y":139.63},
{"id":"l16","level":"(0.16, 0.18]","o":8,"x":11.30,"y":139.53},
{"id":"l16","level":"(0.16, 0.18]","o":9,"x":11.27,"y":139.46},
{"id":"l16","level":"(0.16, 0.18]","o":10,"x":11.20,"y":139.40},
{"id":"l16","level":"(0.16, 0.18]","o":11,"x":11.10,"y":139.37},
{"id":"l16","level":"(0.16, 0.18]","o":12,"x":10.97,"y":139.37},
{"id":"l16","level":"(0.16, 0.18]","o":13,"x":10.84,"y":139.40},
{"id":"l16","level":"(0.16, 0.18]","o":14,"x":10.73,"y":139.46},
{"id":"l16","level":"(0.16, 0.18]","o":15,"x":10.64,"y":139.53},
{"id":"l16","level":"(0.16, 0.18]","o":16,"x":10.60,"y":139.67},
{"id":"y18","level":"(0.18, 0.20]","o":1,"x":9.93,"y":141.59},
{"id":"y18","level":"(0.18, 0.20]","o":2,"x":10.00,"y":141.65},
{"id":"y18","level":"(0.18, 0.20]","o":3,"x":10.08,"y":141.67},
{"id":"y18","level":"(0.18, 0.20]","o":4,"x":10.22,"y":141.66},
{"id":"y18","level":"(0.18, 0.20]","o":5,"x":10.35,"y":141.59},
{"id":"y18","level":"(0.18, 0.20]","o":6,"x":10.42,"y":141.53},
{"id":"y18","level":"(0.18, 0.20]","o":7,"x":10.45,"y":141.47},
{"id":"y18","level":"(0.18, 0.20]","o":8,"x":10.45,"y":141.39},
{"id":"y18","level":"(0.18, 0.20]","o":9,"x":10.39,"y":141.35},
{"id":"y18","level":"(0.18, 0.20]","o":10,"x":10.28,"y":141.26},
{"id":"y18","level":"(0.18, 0.20]","o":11,"x":10.17,"y":141.24},
{"id":"y18","level":"(0.18, 0.20]","o":12,"x":10.08,"y":141.29},
{"id":"y18","level":"(0.18, 0.20]","o":13,"x":10.00,"y":141.36},
{"id":"y18","level":"(0.18, 0.20]","o":14,"x":9.93,"y":141.44}
]},
"encoding":{
"x":{"field":"x","type":"quantitative","scale":{"domain":[7.47,12.53],"nice":false,"zero":false},
"axis":{"title":"top","values":[7.5,8,8.5,9,9.5,10,10.5,11,11.5,12,12.5],"labelExpr":"datum.value % 1 === 0 ? format(datum.value, 'd') : ''","labelOverlap":false,"labelFlush":false,"domain":false,"grid":true,"gridColor":"#FFFFFF","gridWidth":{"condition":{"test":"datum.value % 1 !== 0","value":1},"value":2.2},"tickColor":"#333333","tickWidth":2,"tickSize":7,"tickOpacity":{"condition":{"test":"datum.value % 1 !== 0","value":0},"value":1},"labelColor":"#4D4D4D","labelFontSize":23,"labelPadding":6,"titleFontSize":29,"titleColor":"#000000","titleFontWeight":"normal","titlePadding":8}},
"y":{"field":"y","type":"quantitative","scale":{"domain":[137.57,142.63],"nice":false,"zero":false},
"axis":{"title":"diag","values":[138,138.5,139,139.5,140,140.5,141,141.5,142,142.5],"labelExpr":"datum.value % 1 === 0 ? format(datum.value, 'd') : ''","labelOverlap":false,"labelFlush":false,"domain":false,"grid":true,"gridColor":"#FFFFFF","gridWidth":{"condition":{"test":"datum.value % 1 !== 0","value":1},"value":2.2},"tickColor":"#333333","tickWidth":2,"tickSize":7,"tickOpacity":{"condition":{"test":"datum.value % 1 !== 0","value":0},"value":1},"labelColor":"#4D4D4D","labelFontSize":23,"labelPadding":7,"titleFontSize":29,"titleColor":"#000000","titleFontWeight":"normal","titlePadding":8}},
"color":{"field":"level","type":"nominal",
"scale":{"domain":["(0.00, 0.02]","(0.02, 0.04]","(0.04, 0.06]","(0.06, 0.08]","(0.08, 0.10]","(0.10, 0.12]","(0.12, 0.14]","(0.14, 0.16]","(0.16, 0.18]","(0.18, 0.20]"],
"range":["#440154","#482878","#3E4A89","#31688E","#26828E","#1F9E89","#35B779","#6DCD59","#B4DE2C","#FDE725"]},
"legend":{"title":"level","orient":"none","legendX":1036,"legendY":181,"symbolType":"square","symbolSize":1849,"symbolStrokeWidth":0,"symbolOpacity":1,"rowPadding":3,"labelOffset":17,"labelFontSize":23,"labelColor":"#000000","titleFontSize":29,"titleFontWeight":"normal","titleColor":"#000000","titlePadding":13}},
"detail":{"field":"id"},
"order":{"field":"o","type":"quantitative"}
},
"layer":[
{"transform":[{"filter":{"field":"id","equal":"bg"}}],
"mark":{"type":"line","filled":true,"interpolate":"linear-closed","strokeWidth":0}},
{"transform":[{"filter":{"field":"id","oneOf":["p2","p4","p6"]}}],
"mark":{"type":"line","filled":true,"interpolate":"catmull-rom","strokeWidth":0}},
{"transform":[{"filter":{"field":"id","oneOf":["p8","u10","l10","u12","l12","u14","l14","u16","l16","y18"]}}],
"mark":{"type":"line","filled":true,"interpolate":"cardinal-closed","strokeWidth":0}}
]
}
